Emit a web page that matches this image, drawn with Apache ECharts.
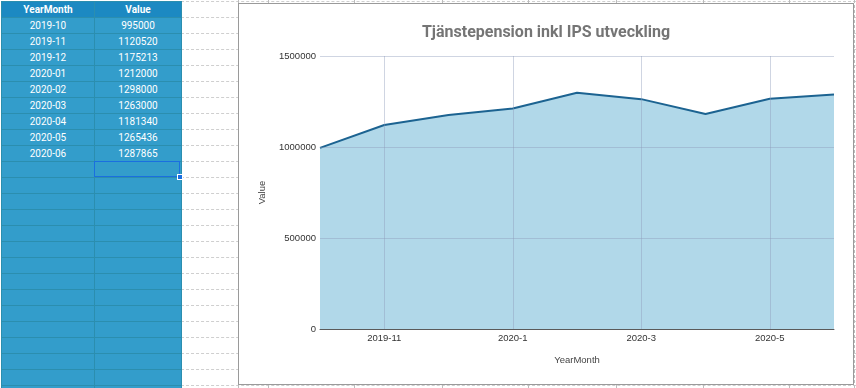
<!DOCTYPE html>
<html>
<head>
<meta charset="utf-8">
<script src="https://cdn.jsdelivr.net/npm/echarts@6/dist/echarts.min.js"></script>
<style>
  html, body { margin: 0; padding: 0; background: #fff; }
  body { width: 856px; height: 388px; position: relative; overflow: hidden; }
  .hline { position: absolute; height: 0; border-top: 1px dashed #cfcfcf; }
  .vline { position: absolute; width: 0; border-left: 1px dashed #bdbdbd; }
  #sheet { position: absolute; left: 1px; top: 1px; border-collapse: collapse; table-layout: fixed;
           font-family: Roboto, 'Liberation Sans', Arial, sans-serif; font-size: 10px; color: #fff; }
  #sheet td { height: 15px; padding: 0; text-align: center; border: 1px solid #2b8eaf; background: #339dcb; line-height: 15px; }
  #sheet tr.head td { background: #1c89c2; font-weight: bold; }
  #sel { position: absolute; left: 94px; top: 161px; width: 84px; height: 14px; border: 1px solid #1a6fe0; }
  #handle { position: absolute; left: 177px; top: 174px; width: 4px; height: 4px; background: #1a6fe0; border: 1px solid #fff; }
  #chart { position: absolute; left: 238px; top: 3px; width: 614px; height: 380px; border: 1px solid #9a9a9a; background: #fff; }
</style>
</head>
<body>
<div id="bg"></div>
<table id="sheet"></table>
<div id="sel"></div><div id="handle"></div>
<div id="chart"></div>
<script>
// ---- data ----
var tableHeaders = ['YearMonth', 'Value'];
var yearMonths = ['2019-10', '2019-11', '2019-12', '2020-01', '2020-02', '2020-03', '2020-04', '2020-05', '2020-06'];
var values = [995000, 1120520, 1175213, 1212000, 1298000, 1263000, 1181340, 1265436, 1287865];
var yTicks = [0, 500000, 1000000, 1500000];
var chartTitle = 'Tjänstepension inkl IPS utveckling';
var xName = 'YearMonth';
var yName = 'Value';

// ---- spreadsheet background ----
var bg = document.getElementById('bg');
for (var y = 1; y < 388; y += 16) {
  var h = document.createElement('div');
  h.className = 'hline';
  h.style.left = '181px'; h.style.top = y + 'px'; h.style.width = '675px';
  bg.appendChild(h);
}
[238, 268, 354, 442, 528, 616, 703, 789, 854].forEach(function (x) {
  var v = document.createElement('div');
  v.className = 'vline';
  v.style.left = x + 'px'; v.style.top = '0px'; v.style.height = '388px';
  bg.appendChild(v);
});

// ---- table ----
var tbl = document.getElementById('sheet');
var colW = [93, 87];
var cg = document.createElement('colgroup');
colW.forEach(function (w) { var c = document.createElement('col'); c.style.width = w + 'px'; cg.appendChild(c); });
tbl.appendChild(cg);
var tr = document.createElement('tr'); tr.className = 'head';
tableHeaders.forEach(function (t) { var td = document.createElement('td'); td.textContent = t; tr.appendChild(td); });
tbl.appendChild(tr);
for (var i = 0; i < 24; i++) {
  var r = document.createElement('tr');
  var a = document.createElement('td'); a.textContent = i < yearMonths.length ? yearMonths[i] : '';
  var b = document.createElement('td'); b.textContent = i < values.length ? String(values[i]) : '';
  r.appendChild(a); r.appendChild(b); tbl.appendChild(r);
}

// ---- chart ----
var chart = echarts.init(document.getElementById('chart'), null, { renderer: 'canvas' });
var labelFont = "'Liberation Sans', Arial, sans-serif";
var oddOnly = function (idx) { return idx % 2 === 1; };
chart.setOption({
  animation: false,
  title: {
    text: chartTitle, left: 'center', top: 16,
    textStyle: { fontFamily: 'Roboto, Arial, sans-serif', fontSize: 16, fontWeight: 'bold', color: '#757575' }
  },
  grid: { left: 81, right: 19, top: 52, bottom: 55 },
  xAxis: {
    type: 'category', data: yearMonths, boundaryGap: false, z: 5,
    name: xName, nameLocation: 'middle', nameGap: 26,
    nameTextStyle: { fontFamily: labelFont, fontSize: 9.5, color: '#444' },
    axisLine: { lineStyle: { color: '#5a5a5a', width: 1 } },
    axisTick: { show: false },
    axisLabel: {
      interval: oddOnly, margin: 4, fontFamily: labelFont, fontSize: 9.5, color: '#333',
      formatter: function (v) { var p = v.split('-'); return p[0] + '-' + parseInt(p[1], 10); }
    },
    splitLine: { show: true, interval: oddOnly, lineStyle: { color: 'rgba(140,155,185,0.42)', width: 1 } }
  },
  yAxis: {
    type: 'value', min: yTicks[0], max: yTicks[yTicks.length - 1], interval: yTicks[1] - yTicks[0], z: 5,
    name: yName, nameLocation: 'middle', nameGap: 53, nameRotate: 90,
    nameTextStyle: { fontFamily: labelFont, fontSize: 9.5, color: '#444' },
    axisLine: { show: false }, axisTick: { show: false },
    axisLabel: { margin: 4, fontFamily: labelFont, fontSize: 9.5, color: '#333',
      formatter: function (v) { return String(v); } },
    splitLine: { lineStyle: { color: 'rgba(140,155,185,0.42)', width: 1 } }
  },
  series: [{
    type: 'line', data: values, z: 1, symbol: 'none', smooth: false,
    lineStyle: { color: '#1c6391', width: 2 },
    areaStyle: { color: '#b1d8e9', opacity: 1 }
  }]
});
</script>
</body>
</html>
